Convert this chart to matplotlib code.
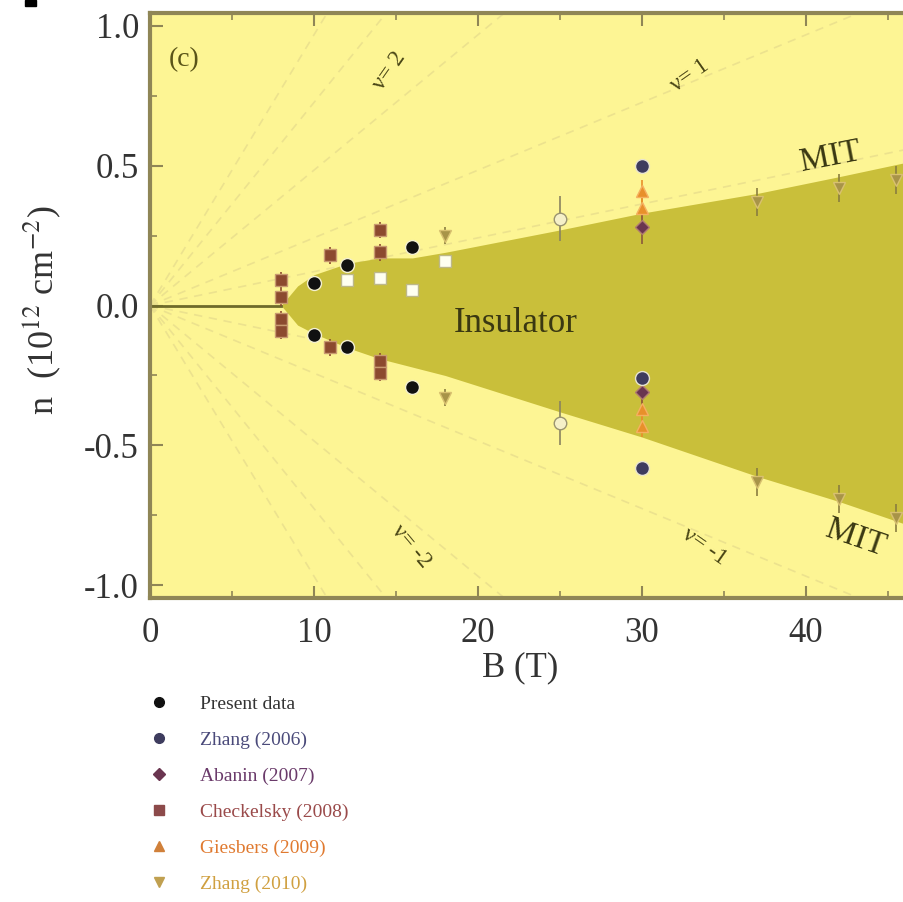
import numpy as np
import matplotlib
matplotlib.use("Agg")
import matplotlib.pyplot as plt
from matplotlib.patches import Rectangle

plt.rcParams['font.family'] = ['Liberation Serif', 'DejaVu Serif']
plt.rcParams['mathtext.fontset'] = 'stix'

# boundary of the insulating region (B in T, n in 1e12 cm^-2)
mit_B = [8, 9, 10, 12, 14, 16, 18, 25, 30, 37, 42, 46, 50]
mit_upper = [0.0, 0.07, 0.11, 0.15, 0.17, 0.17, 0.19, 0.27, 0.33, 0.40, 0.46, 0.51, 0.55]
mit_lower = [0.0, -0.07, -0.10, -0.15, -0.19, -0.22, -0.25, -0.38, -0.47, -0.61, -0.70, -0.78, -0.86]

# filling factor fan lines n = nu * e B / h
nu_values = [-4, -3, -2, -1, -0.5, 0.5, 1, 2, 3, 4]

# present data
present_B = [10, 10, 12, 12, 16, 16]
present_n = [0.08, -0.105, 0.145, -0.15, 0.21, -0.29]
open_B = [12, 14, 16, 18]
open_n = [0.09, 0.10, 0.055, 0.16]

zhang06_B = [30, 30, 30]
zhang06_n = [0.50, -0.26, -0.58]

abanin_B = [30, 30]
abanin_n = [0.28, -0.31]

checkelsky_B = [8, 8, 8, 8, 11, 11, 14, 14, 14, 14]
checkelsky_n = [0.09, 0.03, -0.05, -0.09, 0.18, -0.15, 0.27, 0.19, -0.20, -0.24]

giesbers_B = [30, 30, 30, 30]
giesbers_n = [0.41, 0.35, -0.37, -0.43]

zhang10_B = [18, 18, 37, 37, 42, 42, 45.5, 45.5]
zhang10_n = [0.25, -0.33, 0.37, -0.63, 0.42, -0.69, 0.45, -0.76]
zhang10_err = [0.03, 0.03, 0.05, 0.05, 0.05, 0.05, 0.05, 0.05]

grey_B = [25, 25]
grey_n = [0.31, -0.42]
grey_err = [0.08, 0.08]

legend_labels = ['Present data', 'Zhang (2006)', 'Abanin (2007)',
                 'Checkelsky (2008)', 'Giesbers (2009)', 'Zhang (2010)']

bg = '#fdf594'
ins = '#c9bf3a'
spine_c = '#8f8656'

fig = plt.figure(figsize=(9.04, 9.02), dpi=100)
ax = fig.add_axes([150/904, 304/902, 820/904, 585/902])
ax.set_facecolor(bg)

ax.fill_between(mit_B, mit_lower, mit_upper, color=ins, lw=0, zorder=1)
ax.plot([0, 8], [0, 0], color='#6e6a2a', lw=2, zorder=2)

Bfan = np.array([0, 50])
for nu in nu_values:
    ax.plot(Bfan, nu * 0.02418 * Bfan, ls=(0, (5, 4)), color='#ece28e',
            lw=1.2, zorder=0.5)

ms = 9
ax.errorbar(checkelsky_B, checkelsky_n, yerr=0.03, fmt='s', color='#8c4a2f',
            ms=ms, mec='#c99a70', ecolor='#8c4a2f', elinewidth=1.2, zorder=4)
ax.errorbar(giesbers_B, giesbers_n, yerr=0.04, fmt='^', color='#e8902a',
            ms=ms, mec='#f5b060', ecolor='#e8902a', elinewidth=1.2, zorder=4)
ax.errorbar(abanin_B, abanin_n, yerr=0.06, fmt='D', color='#6a3550',
            ms=7, mec='#b07a70', ecolor='#8a5a3a', elinewidth=1.2, zorder=4)
ax.errorbar(zhang10_B, zhang10_n, yerr=zhang10_err, fmt='v', color='#a89448',
            ms=ms, mec='#d8c070', ecolor='#8a7d40', elinewidth=1.2, zorder=4)
ax.errorbar(grey_B, grey_n, yerr=grey_err, fmt='o', color='#f5f0c8',
            ms=ms, mec='#9a9470', ecolor='#8a8460', elinewidth=1.2, zorder=4)
ax.plot(open_B, open_n, 's', color='#fffff0', ms=ms, mec='#bdb88a', zorder=5)
ax.plot(zhang06_B, zhang06_n, 'o', color='#3e3c5e', ms=ms + 1, mec='#e8e4d0', zorder=5)
ax.plot(present_B, present_n, 'o', color='#111111', ms=ms + 1, mec='#f4f0d0', zorder=6)

ax.set_xlim(0, 50)
ax.set_ylim(-1.045, 1.045)
ax.set_xticks([0, 10, 20, 30, 40])
ax.set_xticks(np.arange(0, 51, 5), minor=True)
ax.set_yticks([-1.0, -0.5, 0.0, 0.5, 1.0])
ax.set_yticks(np.arange(-1.0, 1.01, 0.25), minor=True)
ax.yaxis.set_major_formatter(matplotlib.ticker.FormatStrFormatter('%.1f'))
ax.tick_params(which='both', direction='in', top=True, right=True, color=spine_c)
ax.tick_params(which='major', length=9, width=1.5, labelsize=25, labelcolor='#333333')
ax.tick_params(which='minor', length=5, width=1.2)
ax.tick_params(axis='x', pad=14)
ax.tick_params(axis='y', pad=8)
for s in ax.spines.values():
    s.set_color(spine_c)
    s.set_linewidth(3)

fig.text(520/904, 1 - 668/902, 'B (T)', ha='center', va='center', fontsize=25, color='#333333')
fig.text(42/904, 1 - 310/902, r'n  (10$^{12}$ cm$^{-2}$)', ha='center', va='center',
         rotation=90, fontsize=26, color='#333333')

txt_c = '#3a3812'
ax.text(2.1, 0.88, '(c)', fontsize=20, color='#5a5418', ha='center', va='center')
ax.text(22.3, -0.065, 'Insulator', fontsize=25, color=txt_c, ha='center', va='center')
ax.text(41.5, 0.53, 'MIT', fontsize=24, color=txt_c, ha='center', va='center', rotation=11)
ax.text(43.0, -0.83, 'MIT', fontsize=24, color=txt_c, ha='center', va='center', rotation=-19)
ax.text(14.6, 0.84, 'ν= 2', fontsize=17, color='#4a4616', ha='center', va='center', rotation=55)
ax.text(32.9, 0.82, 'ν= 1', fontsize=17, color='#4a4616', ha='center', va='center', rotation=35)
ax.text(15.9, -0.86, 'ν= -2', fontsize=17, color='#4a4616', ha='center', va='center', rotation=-50)
ax.text(33.8, -0.86, 'ν= -1', fontsize=17, color='#4a4616', ha='center', va='center', rotation=-35)

# legend built from proxy markers
handles = [
    plt.Line2D([], [], ls='', marker='o', color='#111111', ms=7),
    plt.Line2D([], [], ls='', marker='o', color='#3e3c5e', ms=7),
    plt.Line2D([], [], ls='', marker='D', color='#6a3550', ms=6),
    plt.Line2D([], [], ls='', marker='s', color='#8c4a4a', ms=7),
    plt.Line2D([], [], ls='', marker='^', color='#d0803a', ms=7),
    plt.Line2D([], [], ls='', marker='v', color='#c0a050', ms=7),
]
text_colors = ['#333333', '#4a4a7a', '#6a3a6a', '#9a4a4a', '#e07a30', '#d0a040']
fig.legend(handles, legend_labels, loc='upper left',
           bbox_to_anchor=(140/904, 1 - 695/902), frameon=False, fontsize=14,
           labelspacing=0.95, handletextpad=1.1, labelcolor=text_colors,
           borderaxespad=0, borderpad=0)

fig.patches.append(Rectangle((25/904, 1 - 6/902), 11/904, 6/902,
                             transform=fig.transFigure, color='black'))

fig.savefig('out.png', dpi=100)
